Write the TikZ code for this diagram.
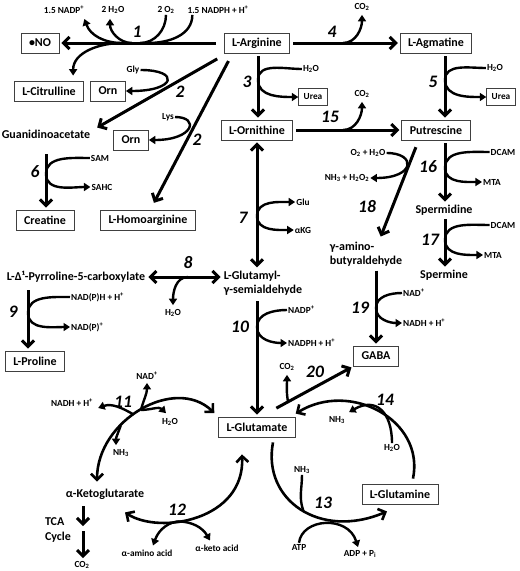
\documentclass[tikz,border=0pt]{standalone}
\usepackage{fontspec}
\setmainfont{Carlito}
\usetikzlibrary{arrows.meta, calc, positioning}
\tikzset{>={Straight Barb[length=6pt,width=12pt]}}

\begin{document}
\begin{tikzpicture}[x=1pt, y=-1pt,
  every node/.style={font=\bfseries},
  metab/.style={font=\bfseries\fontsize{12}{14.5}\selectfont, inner sep=1pt},
  box/.style={metab, draw=black!75, line width=0.8pt, inner xsep=8pt, minimum height=20pt},
  cof/.style={font=\bfseries\fontsize{9.3}{10}\selectfont, inner sep=1pt},
  cofbox/.style={cof, draw=black!75, line width=0.8pt, inner xsep=5pt, minimum height=17pt},
  enz/.style={font=\bfseries\itshape\fontsize{17.5}{17.5}\selectfont, inner sep=0pt},
  rxn/.style={line width=3pt, ->, shorten >=2pt, shorten <=3pt},
  rev/.style={line width=3pt, <->, shorten >=2pt, shorten <=2pt},
  side/.style={line width=2.4pt, -{Triangle[length=6.5pt,width=8pt]}},
  feed/.style={line width=2.4pt},
  cyc/.style={line width=2.6pt, ->},
  cycrev/.style={line width=2.6pt, <->}
]
\useasboundingbox (0,0) rectangle (520,571);

% Metabolites
\node[box] (arg) at (257,43) {L-Arginine};
\node[box] (no) at (40,43) {•NO};
\node[box] (cit) at (49,91) {L-Citrulline};
\node[box] (orn1) at (108,91) {Orn};
\node[metab] (gaa) at (46,134) {Guanidinoacetate};
\node[box] (orn2) at (131,140) {Orn};
\node[box] (agm) at (436,43) {L-Agmatine};
\node[box] (orn) at (257,130) {L-Ornithine};
\node[box] (put) at (436,130) {Putrescine};
\node[box] (cre) at (45,220) {Creatine};
\node[box] (har) at (148,220) {L-Homoarginine};
\node[metab] (spd) at (444,210) {Spermidine};
\node[metab] (spm) at (444,275) {Spermine};
\node[metab, align=left] (gab) at (366,254) {γ-amino-\\butyraldehyde};
\node[metab] (p5c) at (76,277) {L-Δ¹-Pyrroline-5-carboxylate};
\node[metab, align=left] (gsa) at (263,283) {L-Glutamyl-\\γ-semialdehyde};
\node[box] (pro) at (35,361) {L-Proline};
\node[box] (gaba) at (376,356) {GABA};
\node[box] (glu) at (257,427) {L-Glutamate};
\node[box] (gln) at (400,494) {L-Glutamine};
\node[metab] (akg) at (105,494) {α-Ketoglutarate};
\node[metab, align=left] (tca) at (58,530) {TCA\\Cycle};

% Cofactors and side products
\node[cof] (nadp1) at (64,10) {1.5 NADP\textsuperscript{+}};
\node[cof] (w1) at (113,10) {2 H\textsubscript{2}O};
\node[cof] (o1) at (166,10) {2 O\textsubscript{2}};
\node[cof] (nadph1) at (218,10) {1.5 NADPH + H\textsuperscript{+}};
\node[cof] (gly) at (133,70) {Gly};
\node[cof] (lys) at (168,117) {Lys};
\node[cof] (w3) at (311,69) {H\textsubscript{2}O};
\node[cofbox] (urea1) at (313,97) {Urea};
\node[cof] (co4) at (362,7) {CO\textsubscript{2}};
\node[cof] (w5) at (495,68) {H\textsubscript{2}O};
\node[cofbox] (urea2) at (501,97) {Urea};
\node[cof] (co15) at (362,94) {CO\textsubscript{2}};
\node[cof] (sam) at (100,158) {SAM};
\node[cof] (sahc) at (102,187) {SAHC};
\node[cof] (glu7) at (303,202) {Glu};
\node[cof] (akg7) at (303,230) {αKG};
\node[cof] (ox18) at (368,153) {O\textsubscript{2} + H\textsubscript{2}O};
\node[cof] (nh18) at (347,178) {NH\textsubscript{3} + H\textsubscript{2}O\textsubscript{2}};
\node[cof] (dcam16) at (503,152) {DCAM};
\node[cof] (mta16) at (492,182) {MTA};
\node[cof] (dcam17) at (503,225) {DCAM};
\node[cof] (mta17) at (493,255) {MTA};
\node[cof] (w8) at (173,313) {H\textsubscript{2}O};
\node[cof, anchor=west] (nadph9) at (70,297) {NAD(P)H + H\textsuperscript{+}};
\node[cof, anchor=west] (nadp9) at (70,327) {NAD(P)\textsuperscript{+}};
\node[cof, anchor=west] (nadp10) at (287,310) {NADP\textsuperscript{+}};
\node[cof, anchor=west] (nadph10) at (287,343) {NADPH + H\textsuperscript{+}};
\node[cof, anchor=west] (nad19) at (402,293) {NAD\textsuperscript{+}};
\node[cof, anchor=west] (nadh19) at (402,323) {NADH + H\textsuperscript{+}};
\node[cof] (co20) at (287,367) {CO\textsubscript{2}};
\node[cof] (nh14) at (337,420) {NH\textsubscript{3}};
\node[cof] (w14) at (392,448) {H\textsubscript{2}O};
\node[cof] (nh13) at (302,470) {NH\textsubscript{3}};
\node[cof] (atp) at (299,547) {ATP};
\node[cof] (adp) at (360,554) {ADP + P\textsubscript{i}};
\node[cof] (nad11) at (147,376) {NAD\textsuperscript{+}};
\node[cof] (nadh11) at (72,403) {NADH + H\textsuperscript{+}};
\node[cof] (w11) at (170,422) {H\textsubscript{2}O};
\node[cof] (nh11) at (121,453) {NH\textsubscript{3}};
\node[cof] (aa12) at (147,553) {α-amino acid};
\node[cof] (ka12) at (217,548) {α-keto acid};
\node[cof] (co2) at (82,565) {CO\textsubscript{2}};

% Enzyme numbers
\foreach \n/\x/\y [count=\i] in {1/137/32, 2/180/92, 2/197/140, 3/247/82, 4/332/32,
    5/433/82, 15/330/117, 6/35/172, 7/243/218, 16/428/167, 17/430/240, 18/367/207,
    8/188/263, 9/13/312, 10/240/327, 19/360/308, 20/315/372, 14/385/400,
    11/123/402, 12/177/510, 13/323/503}
  \node[enz] (e\i) at (\x,\y) {\n};

% 1: NO synthase
\coordinate (j1a) at (122,43);
\coordinate (j1b) at (132,43);
\coordinate (j1c) at (140,43);
\coordinate (j1d) at (148,43);
\draw[rxn, shorten <=8pt] (arg.west) -- (no.east);
\draw[side] (j1a) to[out=180,in=-70] ([xshift=-1pt,yshift=-4pt]nadp1.south east);
\draw[side] (j1b) to[out=180,in=-90] ([xshift=-3pt,yshift=-4pt]w1.south);
\draw[feed] (o1.south) to[out=-90,in=0] (j1c);
\draw[feed] ([xshift=6pt]nadph1.south west) to[out=-90,in=0] (j1d);
\draw[side] (j1a) to[out=180,in=90] ([xshift=-11pt,yshift=5pt]cit.north east);

% 2: arginine:glycine amidinotransferase
\coordinate (a2) at ([shift={(-4pt,-4pt)}]arg.south west);
\coordinate (a2b) at ([shift={(6pt,-5pt)}]arg.south west);
\draw[rxn] (a2) -- ([xshift=4pt]gaa.north east);
\draw[side] (gly.east) .. controls +(40,0) and +(50,0) .. (orn1.east);
\draw[rxn] (a2b) -- ([xshift=5pt,yshift=5pt]har.north);
\draw[side] (lys.east) .. controls +(25,0) and +(45,0) .. (orn2.east);

% 3: arginase
\coordinate (j3) at (258,80);
\draw[rxn] ([xshift=1pt]arg.south) -- ([xshift=1pt]orn.north);
\draw[feed] (w3.west) to[out=180,in=90] (j3);
\draw[side] (j3) to[out=-90,in=180] (urea1.west);

% 4: arginine decarboxylase
\coordinate (j4) at (343,43);
\draw[rxn] (arg.east) -- (agm.west);
\draw[side] (j4) to[out=0,in=-90] ([yshift=-3pt]co4.south);

% 5: agmatinase
\coordinate (p5) at ([xshift=9pt]agm.south);
\coordinate (j5) at (445,80);
\draw[rxn] (p5) -- (p5 |- put.north);
\draw[feed] (w5.west) to[out=180,in=90] (j5);
\draw[side] (j5) to[out=-90,in=180] (urea2.west);

% 15: ornithine decarboxylase
\coordinate (j15) at (343,130);
\draw[rxn] (orn.east) -- (put.west);
\draw[side] (j15) to[out=0,in=-90] ([yshift=-3pt]co15.south);

% 6
\coordinate (p6) at (46,151);
\coordinate (j6) at (46,174);
\draw[rxn] (p6) -- (p6 |- cre.north);
\draw[feed] (sam.west) to[out=180,in=90] (j6);
\draw[side] (j6) to[out=-90,in=180] (sahc.west);

% 7: ornithine aminotransferase
\coordinate (j7) at (257,216);
\draw[rev] (orn.south) -- (orn.south |- gsa.north);
\draw[side] (j7) to[out=90,in=180] (glu7.west);
\draw[side] (j7) to[out=-90,in=180] (akg7.west);

% 16, 17: spermidine / spermine synthase
\coordinate (p16) at ([xshift=9pt]put.south);
\coordinate (j16) at (445,168);
\coordinate (j17) at (445,240);
\draw[rxn] (p16) -- (p16 |- spd.north);
\draw[feed] (dcam16.west) to[out=180,in=90] (j16);
\draw[side] (j16) to[out=-90,in=180] (mta16.west);
\draw[rxn] (spd.south -| p16) -- (p16 |- spm.north);
\draw[feed] (dcam17.west) to[out=180,in=90] (j17);
\draw[side] (j17) to[out=-90,in=180] (mta17.west);

% 18: diamine oxidase
\coordinate (p18) at ([shift={(-19pt,-4pt)}]put.south);
\draw[rxn] (p18) -- ([xshift=14pt,yshift=2pt]gab.north);
\draw[side] (ox18.east) .. controls +(30,0) and +(45,0) .. (nh18.east);

% 8, 9: P5C
\coordinate (j8) at (188,277);
\draw[rev] (p5c.east) -- (p5c.east -| gsa.west);
\draw[side] (j8) to[out=180,in=90] ([yshift=3pt]w8.north);
\coordinate (p9) at (28,287);
\coordinate (j9) at (28,313);
\draw[rxn] (p9) -- (p9 |- pro.north);
\draw[feed] (nadph9.west) to[out=180,in=90] (j9);
\draw[side] (j9) to[out=-90,in=180] (nadp9.west);

% 10: P5C dehydrogenase
\coordinate (p10) at (257,298);
\coordinate (j10) at (257,327);
\draw[rxn] (p10) -- (p10 |- glu.north);
\draw[feed] (nadp10.west) to[out=180,in=90] (j10);
\draw[side] (j10) to[out=-90,in=180] (nadph10.west);

% 19
\coordinate (j19) at (376,308);
\draw[rxn] (gab.south -| gaba.north) -- (gaba.north);
\draw[feed] (nad19.west) to[out=180,in=90] (j19);
\draw[side] (j19) to[out=-90,in=180] (nadh19.west);

% 20: glutamate decarboxylase
\coordinate (p20) at ([shift={(-22pt,7pt)}]glu.north east);
\draw[rxn] (p20) -- coordinate[pos=0.18] (j20) (gaba.south west);
\draw[side] (j20) to[out=100,in=-90] ([yshift=-3pt]co20.south);

% 14: glutaminase
\coordinate (s14) at ([shift={(13pt,5pt)}]gln.north);
\draw[cyc] (s14) .. controls (425,420) and (350,380) .. ([yshift=3pt]glu.north east);
\draw[side] (w14.north) to[out=90,in=30,looseness=1.5] ([shift={(3pt,3pt)}]nh14.north east);

% 13: glutamine synthetase
\coordinate (s13) at ([shift={(16pt,-5pt)}]glu.south);
\draw[cyc] (s13) .. controls (262,500) and (320,540) .. coordinate[pos=0.52] (j13) ([shift={(-13pt,-7pt)}]gln.south);
\draw[feed] (nh13.south) to[out=-90,in=110] (j13);
\draw[side] (atp.north) .. controls (302,518) and (348,515) .. ([shift={(-2pt,2pt)}]adp.north);

% 11: glutamate dehydrogenase
\draw[cycrev] ([shift={(-8pt,6pt)}]akg.north) .. controls (97,420) and (175,375) ..
  coordinate[pos=0.35] (j11c) coordinate[pos=0.45] (j11b) coordinate[pos=0.5] (j11a)
  ([shift={(-4pt,14pt)}]glu.west);
\draw[side] (j11a) to[out=75,in=-90] ([yshift=-2pt]nad11.south);
\draw[side] (j11a) to[out=0,in=135] ([shift={(-4pt,4pt)}]w11.north);
\draw[side] (j11b) to[out=150,in=20] ([shift={(4pt,-5pt)}]nadh11.east);
\draw[side] (j11c) to[out=-110,in=90] ([shift={(-5pt,3pt)}]nh11.north);

% 12: aminotransferases
\draw[cycrev] ([shift={(20pt,-12pt)}]akg.south) .. controls (160,535) and (245,520) ..
  coordinate[pos=0.37] (j12) ([shift={(-15pt,-17pt)}]glu.south);
\draw[side] (j12) to[out=190,in=70] ([shift={(6pt,3pt)}]aa12.north);
\draw[side] (j12) to[out=0,in=120] ([shift={(-7pt,3pt)}]ka12.north);

% TCA cycle
\coordinate (t0) at (83,503);
\coordinate (t1) at (83,528);
\draw[rxn] (t0) -- (t1);
\draw[rxn] (t1) -- (t1 |- co2.north);

\end{tikzpicture}
\end{document}
